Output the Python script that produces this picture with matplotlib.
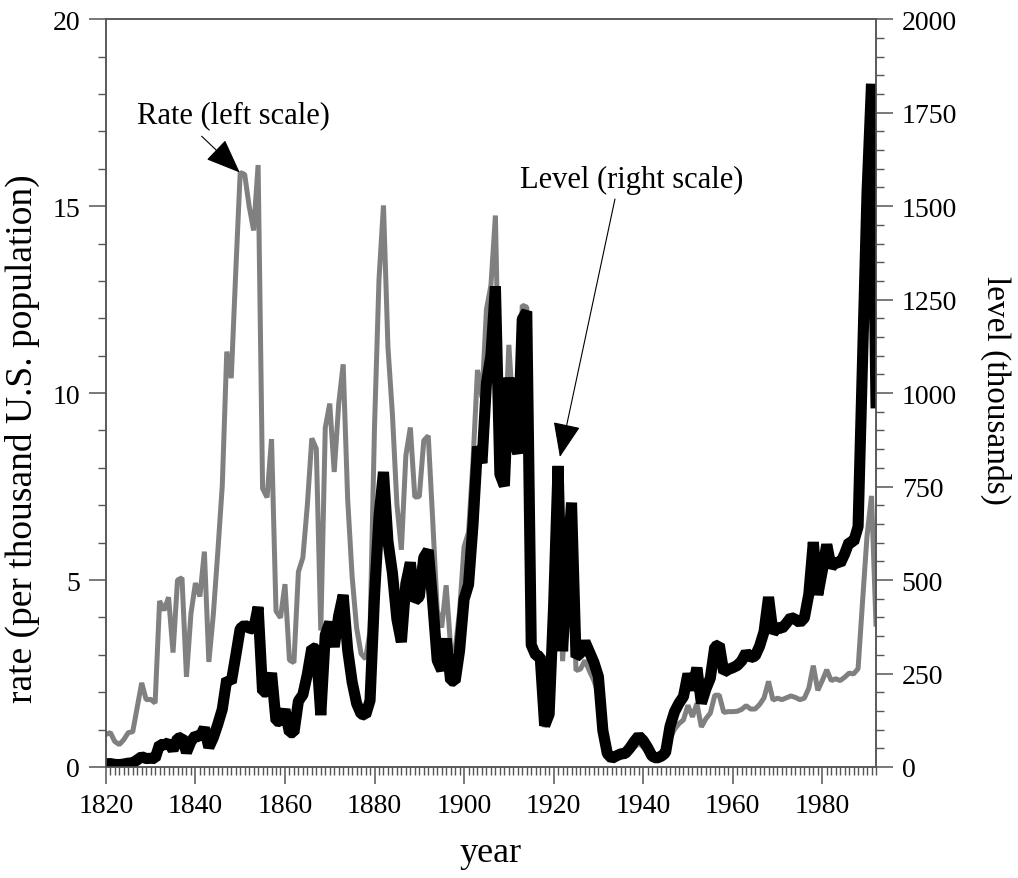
import matplotlib
matplotlib.use("Agg")
import matplotlib.pyplot as plt
from matplotlib.ticker import MultipleLocator

plt.rcParams['font.family'] = ['Liberation Serif', 'DejaVu Serif']

# years 1820 .. 1992
years = list(range(1820, 1993))

# immigration level, thousands of persons
level = [
    8.4, 9.1, 6.9, 6.4, 7.9, 10.2, 10.8, 18.9, 27.4, 22.5,
    23.3, 22.6, 60.5, 58.6, 65.4, 45.4, 76.2, 79.3, 38.9, 68.1,
    84.1, 80.3, 104.6, 52.5, 78.6, 114.4, 154.4, 235.0, 226.5, 297.0,
    370.0, 379.5, 371.6, 368.6, 427.8, 200.9, 200.4, 251.3, 123.1, 121.3,
    153.6, 91.9, 92.0, 176.3, 193.4, 248.1, 318.6, 315.7, 138.8, 352.8,
    387.2, 321.4, 404.8, 459.8, 313.3, 227.5, 170.0, 141.9, 138.5, 177.8,
    457.3, 669.4, 789.0, 603.3, 518.6, 395.3, 334.2, 490.1, 546.9, 444.4,
    455.3, 560.3, 579.7, 439.7, 285.6, 258.5, 343.3, 230.8, 229.3, 311.7,
    448.6, 487.9, 648.7, 857.0, 812.9, 1026.5, 1100.7, 1285.3, 782.9, 751.8,
    1041.6, 878.6, 838.2, 1197.9, 1218.5, 326.7, 298.8, 295.4, 110.6, 141.1,
    430.0, 805.2, 309.6, 522.9, 706.9, 294.3, 304.5, 335.2, 307.3, 279.7,
    241.7, 97.1, 35.6, 23.1, 29.5, 35.0, 36.3, 50.2, 67.9, 83.0,
    70.8, 51.8, 28.8, 23.7, 28.6, 38.1, 108.7, 147.3, 170.6, 188.3,
    249.2, 205.7, 265.5, 170.4, 208.2, 237.8, 321.6, 326.9, 253.3, 260.7,
    265.4, 271.3, 283.8, 306.3, 292.2, 296.7, 323.0, 362.0, 454.4, 358.6,
    373.3, 370.5, 384.7, 400.1, 394.9, 386.2, 398.6, 462.3, 601.4, 460.3,
    524.3, 595.0, 533.6, 550.1, 543.9, 570.0, 601.7, 601.5, 643.0, 1090.9,
    1536.5, 1827.2, 974.0,
]

# immigration rate, per thousand U.S. population
rate = [
    0.87, 0.92, 0.68, 0.60, 0.73, 0.92, 0.94, 1.60, 2.25, 1.80,
    1.81, 1.71, 4.44, 4.19, 4.54, 3.06, 5.00, 5.06, 2.41, 4.10,
    4.92, 4.56, 5.76, 2.81, 4.08, 5.75, 7.53, 11.11, 10.40, 13.22,
    15.90, 15.85, 15.00, 14.35, 16.10, 7.45, 7.21, 8.77, 4.17, 3.99,
    4.89, 2.86, 2.79, 5.22, 5.60, 7.01, 8.79, 8.51, 3.65, 9.07,
    9.72, 7.89, 9.71, 10.77, 7.17, 5.09, 3.72, 3.03, 2.89, 3.63,
    9.11, 13.04, 15.02, 11.23, 9.43, 7.03, 5.81, 8.33, 9.08, 7.22,
    7.23, 8.73, 8.86, 6.59, 4.20, 3.73, 4.86, 3.21, 3.13, 4.17,
    5.89, 6.28, 8.19, 10.62, 9.88, 12.24, 12.88, 14.75, 8.82, 8.31,
    11.29, 9.39, 8.84, 12.35, 12.30, 3.30, 2.98, 2.91, 1.07, 1.35,
    4.06, 7.48, 2.83, 4.72, 6.28, 2.58, 2.62, 2.85, 2.57, 2.31,
    1.96, 0.78, 0.28, 0.18, 0.23, 0.27, 0.28, 0.39, 0.52, 0.63,
    0.54, 0.39, 0.21, 0.17, 0.20, 0.27, 0.76, 1.01, 1.16, 1.26,
    1.65, 1.34, 1.70, 1.07, 1.29, 1.44, 1.92, 1.92, 1.46, 1.48,
    1.48, 1.49, 1.54, 1.64, 1.55, 1.55, 1.67, 1.85, 2.29, 1.79,
    1.84, 1.80, 1.85, 1.90, 1.86, 1.80, 1.84, 2.11, 2.71, 2.05,
    2.31, 2.60, 2.31, 2.36, 2.31, 2.40, 2.51, 2.49, 2.63, 4.43,
    6.18, 7.25, 3.82,
]

year_ticks = [1820, 1840, 1860, 1880, 1900, 1920, 1940, 1960, 1980]
axis_col = '#555555'

fig = plt.figure(figsize=(10.18, 8.79), dpi=100)
ax = fig.add_axes([0.104, 0.1263, 0.7565, 0.8507])
ax2 = ax.twinx()

ax.plot(years, rate, color='#808080', lw=3.6, solid_joinstyle='bevel')
ax2.plot(years, level, color='black', lw=8, solid_joinstyle='bevel')

ax.set_xlim(1820, 1992)
ax.set_ylim(0, 20)
ax2.set_ylim(0, 2000)

ax.set_xticks(year_ticks)
ax.xaxis.set_minor_locator(MultipleLocator(1))
ax.yaxis.set_major_locator(MultipleLocator(5))
ax.yaxis.set_minor_locator(MultipleLocator(1))
ax2.yaxis.set_major_locator(MultipleLocator(250))
ax2.yaxis.set_minor_locator(MultipleLocator(50))

for a in (ax, ax2):
    a.tick_params(which='major', direction='out', length=12.5, width=1.1,
                  color=axis_col, labelsize=20, pad=6)
    a.tick_params(which='minor', direction='out', length=6, width=1.0,
                  color=axis_col)
    for s in a.spines.values():
        s.set_color(axis_col)
        s.set_linewidth(1.1)
ax.tick_params(axis='y', which='both', right=False)
ax.tick_params(axis='x', which='both', top=False)

ax.set_xlabel('year', fontsize=26, va='center')
ax.xaxis.set_label_coords(0.5, -0.115)
ax.set_ylabel('rate (per thousand U.S. population)', fontsize=27, va='center')
ax.yaxis.set_label_coords(-0.108, 0.44)
ax2.set_ylabel('level (thousands)', fontsize=24, rotation=270, va='center')
ax2.yaxis.set_label_coords(1.155, 0.505)

arrow = dict(arrowstyle='-|>,head_length=1.0,head_width=0.4', color='black',
             lw=0.8, shrinkA=0, shrinkB=0, mutation_scale=22)
ax.text(1848.4, 17.45, 'Rate (left scale)', fontsize=22, ha='center', va='center')
ax.annotate('', xy=(1849.9, 15.9), xytext=(1841.4, 16.87), arrowprops=arrow)

ax2.text(1937.5, 1572, 'Level (right scale)', fontsize=22, ha='center', va='center')
ax2.annotate('', xy=(1921.4, 829), xytext=(1933.7, 1519), arrowprops=arrow)

fig.savefig('out.png', dpi=100)
